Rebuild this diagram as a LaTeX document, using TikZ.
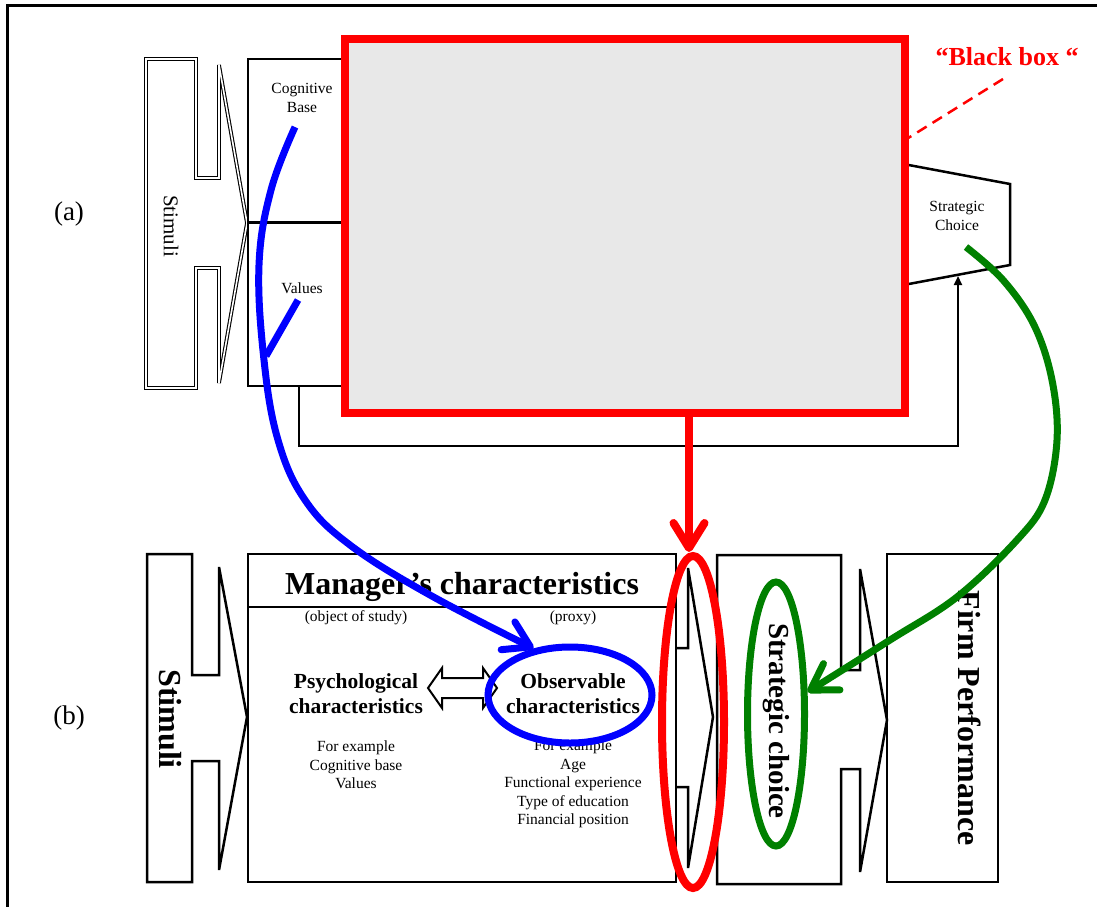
\documentclass[tikz,border=0pt]{standalone}
\usepackage{fontspec}
\setmainfont{Liberation Serif}
\usetikzlibrary{arrows.meta,shapes.geometric}
\definecolor{boxgray}{RGB}{232,232,232}
\definecolor{dgreen}{RGB}{0,128,0}
\begin{document}
\begin{tikzpicture}[x=1pt,y=-1pt,
  blk/.style={draw=black, line width=2.5pt},
  dbl/.style={draw=black, double=white, line width=1.1pt, double distance=1.6pt},
  fbline/.style={draw=black, line width=2pt},
  sm/.style={inner sep=0pt, align=center, font=\fontsize{15.5}{18.5}\selectfont},
  bigb/.style={inner sep=0pt, font=\bfseries\fontsize{32}{36}\selectfont},
  midb/.style={inner sep=0pt, align=center, font=\bfseries\fontsize{21.5}{25}\selectfont},
  openhead/.style={-{Straight Barb[length=25pt,width=31pt,round]}},
  blueline/.style={draw=blue, line width=7pt},
  greenline/.style={draw=dgreen, line width=7pt},
  redline/.style={draw=red, line width=8pt},
  boxnode/.style={blk, inner sep=0pt, outer sep=0pt, anchor=north west},
]
\useasboundingbox (0,0) rectangle (1097,906);
\begin{scope}
\clip (0,0) rectangle (1097,906);
\draw[line width=3pt] (7,920) -- (7,5) -- (1110,5);
\end{scope}

% labels
\node[font=\fontsize{27}{30}\selectfont, inner sep=0pt] (la) at (69,214) {(a)};
\node[font=\fontsize{27}{30}\selectfont, inner sep=0pt] (lb) at (69,718) {(b)};

% ---------- (a) ----------
\draw[dbl] (146,59) -- (196,59) -- (196,178) -- (219,178) -- (219,65) -- (247,223) -- (219,383) -- (219,268) -- (196,268) -- (196,388) -- (146,388) -- cycle;
\node[rotate=-90, inner sep=0pt, font=\fontsize{21}{24}\selectfont] (stima) at (171,226) {Stimuli};

\node[boxnode, minimum width=102pt, minimum height=327pt] (cog) at (248,59) {};
\draw[blk] (cog.west) -- (cog.east);
\node[sm] (cogt) at (302,98) {Cognitive\\Base};
\node[sm] (valt) at (302,288) {Values};

\draw[blk] (898,163) -- (1010,184) -- (1010,265) -- (898,286);
\node[sm] (sca) at (957,216) {Strategic\\Choice};
\coordinate (sct) at (958,276);
\coordinate (fbl) at (298,446);
\draw[fbline, -{Triangle[length=9pt,width=8pt]}] (cog.south) -- (cog.south |- fbl) -| (sct);

\node[draw=red, line width=8pt, fill=boxgray, minimum width=560pt, minimum height=374pt, inner sep=0pt, outer sep=0pt] (bb) at (625,226) {};
\node[text=red, font=\bfseries\fontsize{26}{29}\selectfont, inner sep=0pt] (bbt) at (1007,57) {“Black box “};
\coordinate (dl) at (1003,79);
\draw[red, line width=2.5pt, dash pattern=on 11pt off 7pt] (dl) -- ([yshift=86pt]bb.east);

% ---------- (b) ----------
\draw[blk] (147,554) -- (192,554) -- (192,675) -- (219,675) -- (219,567) -- (247,717) -- (219,870) -- (219,761) -- (192,761) -- (192,882) -- (147,882) -- cycle;
\node[rotate=-90, bigb] (stimb) at (170,719) {Stimuli};

\node[boxnode, minimum width=428pt, minimum height=328pt] (mgr) at (248,554) {};
\draw[blk] (248,607) -- (676,607);
\node[bigb] (mgrt) at (462,587) {Manager's characteristics};
\node[sm] (obj) at (356,618) {(object of study)};
\node[sm] (prx) at (573,618) {(proxy)};

\node[midb] (psy) at (356,694) {Psychological\\characteristics};
\node[sm] (psyl) at (356,765) {For example\\Cognitive base\\Values};
\node[midb] (obs) at (573,694) {Observable\\characteristics};
\node[sm] (obsl) at (573,784) {For example\\Age\\Functional experience\\Type of education\\Financial position};

\draw[line width=2pt, fill=white] (428,688) -- (442,668) -- (442,678) -- (483,678) -- (483,668) -- (497,688) -- (483,708) -- (483,698) -- (442,698) -- (442,708) -- cycle;

\draw[blk] (676,648) -- (688,648) -- (688,568) -- (713,717) -- (688,868) -- (688,787) -- (676,787);

\draw[blk] (717,555) -- (841,555) -- (841,670) -- (860,670) -- (860,569) -- (887,720) -- (860,872) -- (860,769) -- (841,769) -- (841,884) -- (717,884) -- cycle;
\node[rotate=-90, inner sep=0pt, font=\bfseries\fontsize{29}{32}\selectfont] (scbt) at (776,721) {Strategic choice};

\node[boxnode, minimum width=111pt, minimum height=328pt] (firm) at (887,554) {};
\node[rotate=-90, bigb] (firmt) at (970,718) {Firm Performance};

% ellipses
\node[ellipse, draw=red, line width=8pt, minimum width=62pt, minimum height=332pt, inner sep=0pt] (redel) at (693,722) {};
\node[ellipse, draw=dgreen, line width=7pt, minimum width=57pt, minimum height=264pt, inner sep=0pt] (grel) at (776,714) {};
\node[ellipse, draw=blue, line width=7pt, minimum width=164pt, minimum height=96pt, inner sep=0pt] (obsel) at (570,695) {};

% connectors
\coordinate (bs) at (295,127);
\coordinate (vs) at (298,300);
\coordinate (bj) at (266,356);
\draw[blueline, openhead] plot[smooth, tension=0.65] coordinates {(bs) (271,190) (259,265) (264,360) (278,440) (305,500) (350,545) (430,595) (obsel.128)};
\draw[blueline] (vs) -- (bj);

\coordinate (gs) at (966,247);
\draw[greenline, openhead] plot[smooth, tension=0.6] coordinates {(gs) (1003,280) (1034,325) (1052,380) (1057,440) (1045,500) (1017,540) (957,597) (890,640) (grel.35)};

\coordinate (rs) at (689,417);
\draw[redline, openhead] (rs) -- (rs |- redel.north);
\end{tikzpicture}
\end{document}
